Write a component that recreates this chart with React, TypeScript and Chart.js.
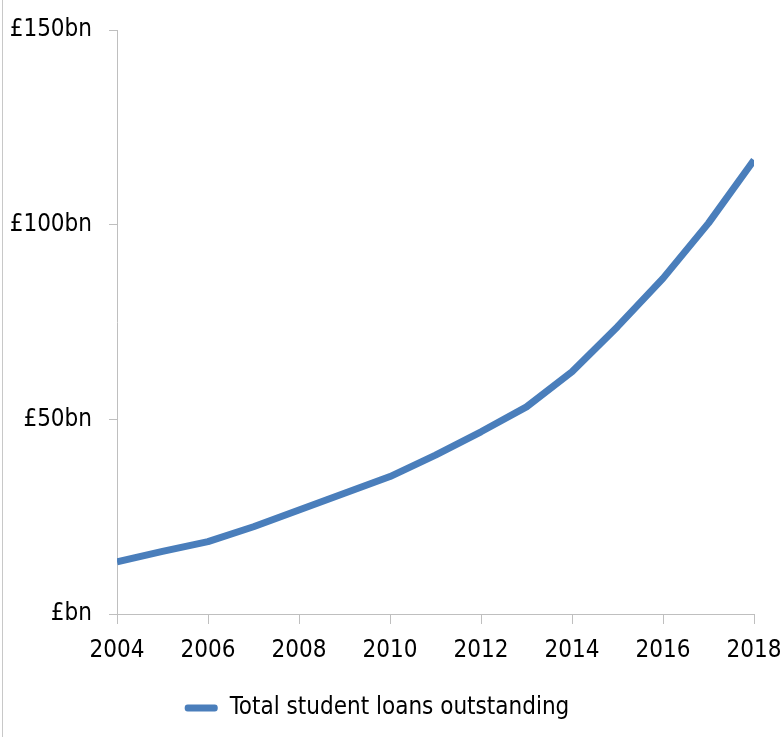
import React, { useEffect, useRef } from "react";
import { Chart, registerables } from "chart.js";

Chart.register(...registerables);

const years = [2004, 2005, 2006, 2007, 2008, 2009, 2010, 2011, 2012, 2013, 2014, 2015, 2016, 2017, 2018];
const loans = [13.4, 16.1, 18.6, 22.4, 26.7, 31.0, 35.3, 40.8, 46.8, 53.2, 62.2, 73.8, 86.2, 100.4, 116.6];
const yTicks = [0, 50, 100, 150];
const yTickLabels = ["£bn", "£50bn", "£100bn", "£150bn"];
const seriesLabel = "Total student loans outstanding";

const FONT = "'Liberation Sans Narrow', 'DejaVu Sans Condensed', 'Liberation Sans', sans-serif";
const FSIZE = 24;
const BLUE = "#4a7ebb";
const AXIS = "#bfbfbf";

export default function App() {
  const ref = useRef<HTMLCanvasElement | null>(null);

  useEffect(() => {
    if (!ref.current) return;
    const chart = new Chart(ref.current, {
      type: "line",
      data: {
        datasets: [
          {
            label: seriesLabel,
            data: years.map((y, i) => ({ x: y, y: loans[i] })),
            borderColor: BLUE,
            backgroundColor: BLUE,
            borderWidth: 7,
            pointRadius: 0,
            tension: 0,
            borderCapStyle: "butt",
            borderJoinStyle: "round",
          },
        ],
      },
      options: {
        animation: false,
        responsive: false,
        maintainAspectRatio: false,
        layout: { padding: { left: 0, right: 30, top: 30, bottom: 12 } },
        plugins: {
          tooltip: { enabled: false },
          legend: {
            position: "bottom",
            labels: {
              font: { family: FONT, size: FSIZE },
              color: "#000",
              padding: 12,
              boxWidth: 33,
              boxHeight: 7,
              useBorderRadius: true,
              borderRadius: 3,
              generateLabels: () => [
                {
                  text: seriesLabel,
                  fillStyle: BLUE,
                  strokeStyle: BLUE,
                  lineWidth: 0,
                  hidden: false,
                  datasetIndex: 0,
                  borderRadius: 3,
                } as any,
              ],
            },
          },
        },
        scales: {
          x: {
            type: "linear",
            min: 2004,
            max: 2018,
            afterFit: (s: any) => {
              s.height = 70;
              s.paddingLeft = 0;
              s.paddingRight = 0;
            },
            ticks: {
              stepSize: 2,
              font: { family: FONT, size: FSIZE },
              color: "#000",
              padding: 12,
              maxRotation: 0,
              callback: (v: any) => String(v),
            },
            grid: {
              drawOnChartArea: false,
              drawTicks: true,
              tickLength: 10,
              color: AXIS,
            },
            border: { display: true, color: AXIS, width: 1 },
          },
          y: {
            min: 0,
            max: 150,
            afterFit: (s: any) => {
              s.width = 117;
              s.paddingTop = 0;
              s.paddingBottom = 0;
            },
            afterBuildTicks: (s: any) => {
              s.ticks = yTicks.map((v) => ({ value: v }));
            },
            ticks: {
              font: { family: FONT, size: FSIZE },
              color: "#000",
              padding: 17,
              callback: (v: any) => {
                const i = yTicks.indexOf(Number(v));
                return i >= 0 ? yTickLabels[i] : "";
              },
            },
            grid: {
              drawOnChartArea: false,
              drawTicks: true,
              tickLength: 8,
              color: AXIS,
            },
            border: { display: true, color: AXIS, width: 1 },
          },
        },
      },
    });
    return () => chart.destroy();
  }, []);

  return (
    <div style={{ position: "fixed", left: 0, top: 0, width: 784, height: 742, background: "#fff" }}>
      <div style={{ position: "absolute", left: 2, top: 0, width: 1, height: 737, background: "#c8c8c8" }} />
      <canvas ref={ref} width={784} height={742} style={{ position: "absolute", left: 0, top: 0, width: 784, height: 742 }} />
    </div>
  );
}
